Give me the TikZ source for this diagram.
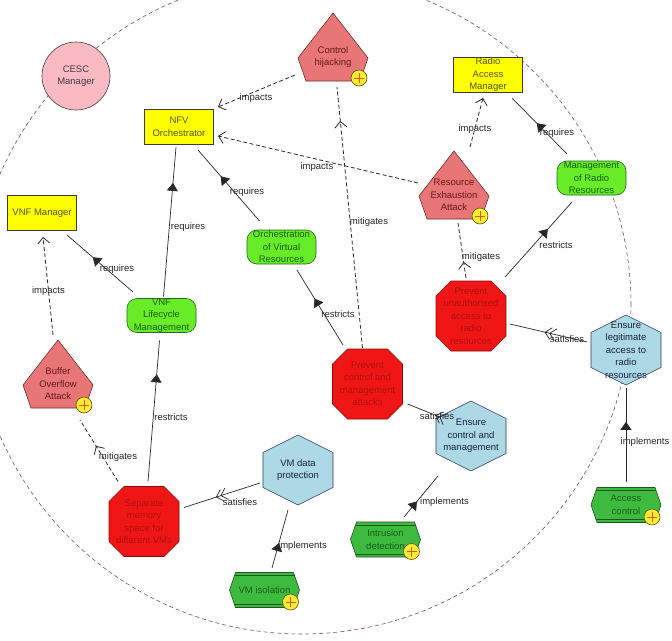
\documentclass[tikz,border=0pt]{standalone}
\usepackage{fontspec}
\setmainfont{Liberation Sans}
\usetikzlibrary{calc,arrows.meta,decorations.markings}

\definecolor{linec}{RGB}{40,40,40}
\definecolor{bordc}{RGB}{60,60,60}
\definecolor{goalfill}{RGB}{255,255,0}
\definecolor{goaltext}{RGB}{85,85,20}
\definecolor{actorfill}{RGB}{249,186,196}
\definecolor{actortxt}{RGB}{70,60,60}
\definecolor{pentafill}{RGB}{232,118,118}
\definecolor{pentabord}{RGB}{110,45,45}
\definecolor{pentatxt}{RGB}{105,25,25}
\definecolor{softfill}{RGB}{104,236,40}
\definecolor{softbord}{RGB}{40,105,30}
\definecolor{softtxt}{RGB}{25,95,25}
\definecolor{taskfill}{RGB}{62,186,62}
\definecolor{taskbord}{RGB}{30,85,30}
\definecolor{octfill}{RGB}{240,22,22}
\definecolor{octbord}{RGB}{140,10,10}
\definecolor{octtxt}{RGB}{175,15,15}
\definecolor{hexfill}{RGB}{173,216,230}
\definecolor{hexbord}{RGB}{50,60,80}
\definecolor{hextxt}{RGB}{25,35,60}
\definecolor{plusfill}{RGB}{255,235,50}
\definecolor{plusbord}{RGB}{90,80,20}
\definecolor{pluscross}{RGB}{215,95,20}
\definecolor{circc}{RGB}{135,75,85}

\tikzset{
  txt/.style={font=\fontsize{9.5}{12.5}\selectfont, align=center, inner sep=0pt},
  goalbox/.style={txt, draw=bordc, fill=goalfill, text=goaltext, minimum width=69pt, minimum height=35pt, line width=0.6pt},
  actor/.style={txt, circle, draw=bordc, fill=actorfill, text=actortxt, minimum size=68pt, line width=0.6pt},
  softgoal/.style={txt, draw=softbord, fill=softfill, text=softtxt, rounded corners=10pt, minimum width=69pt, minimum height=34pt, line width=0.6pt},
  pentashape/.style={draw=pentabord, fill=pentafill, line width=0.6pt},
  octshape/.style={draw=octbord, fill=octfill, line width=0.6pt},
  hexshape/.style={draw=hexbord, fill=hexfill, line width=0.6pt},
  taskshape/.style={draw=taskbord, fill=taskfill, line width=0.6pt},
  pentatext/.style={txt, text=pentatxt},
  octtext/.style={txt, text=octtxt},
  hextext/.style={txt, text=hextxt},
  tasktext/.style={txt, text=softtxt},
  plusdisc/.style={draw=plusbord, fill=plusfill, line width=0.6pt},
  pluscr/.style={draw=pluscross, line width=0.8pt},
  lbl/.style={font=\fontsize{9.5}{11}\selectfont, text=linec, inner sep=0pt},
  conn/.style={draw=linec, line width=0.7pt},
  dconn/.style={conn, line width=0.8pt, dash pattern=on 4pt off 2.5pt},
  endbarb/.style={-{Straight Barb[length=6pt,width=12pt]}},
  barbat/.style={decoration={markings, mark=at position #1 with {\pgfsetdash{}{0pt}\arrow{Straight Barb[length=6pt,width=12pt]}}}, postaction={decorate}},
  triat/.style={decoration={markings, mark=at position #1 with {\arrow{Triangle[length=8pt,width=11pt]}}}, postaction={decorate}},
  satat/.style 2 args={decoration={markings, mark=at position #1 with {\arrow{Straight Barb[length=6pt,width=12pt]}}, mark=at position #2 with {\arrow{Straight Barb[length=6pt,width=12pt]}}}, postaction={decorate}},
}

\newcommand{\plusat}[1]{%
  \filldraw[plusdisc] (#1) circle[radius=8pt];
  \draw[pluscr] (#1) +(-5,0) -- +(5,0) +(0,-5) -- +(0,5);}

\newcommand{\pentanode}[3]{%
  \begin{scope}[shift={(#2)}]
    \filldraw[pentashape] (0,-44) -- (35,1) -- (27,24) -- (-27,24) -- (-35,1) -- cycle;
    \node[pentatext] (#1) at (0,0) {#3};
    \plusat{26,21}
  \end{scope}}

\newcommand{\octanode}[3]{%
  \begin{scope}[shift={(#2)}]
    \filldraw[octshape] (-20,-35) -- (20,-35) -- (35,-20) -- (35,20) -- (20,35) -- (-20,35) -- (-35,20) -- (-35,-20) -- cycle;
    \node[octtext] (#1) at (0,0) {#3};
  \end{scope}}

\newcommand{\hexnode}[3]{%
  \begin{scope}[shift={(#2)}]
    \filldraw[hexshape] (0,-35) -- (35,-17.5) -- (35,17.5) -- (0,35) -- (-35,17.5) -- (-35,-17.5) -- cycle;
    \node[hextext] (#1) at (0,0) {#3};
  \end{scope}}

\newcommand{\tasknode}[3]{%
  \begin{scope}[shift={(#2)}]
    \filldraw[taskshape] (-35,0) -- (-29,-17.5) -- (29,-17.5) -- (35,0) -- (29,17.5) -- (-29,17.5) -- cycle;
    \draw[taskbord, line width=0.6pt] (-30,-14.5) -- (30,-14.5) (-30,14.5) -- (30,14.5);
    \node[tasktext] (#1) at (0,0) {#3};
    \plusat{26,12}
  \end{scope}}

\begin{document}
\begin{tikzpicture}[x=1pt,y=-1pt]
\fill[white] (0,0) rectangle (672,640);
\useasboundingbox (0,0) rectangle (672,640);
\begin{scope}
  \clip (0,0) rectangle (672,640);
  \draw[circc, line width=0.6pt, dash pattern=on 4pt off 3pt] (302,305) circle[radius=329pt];
\end{scope}

% nodes
\node[actor] (cesc) at (76,76) {CESC\\Manager};
\node[goalbox] (nfv) at (179,127) {NFV\\Orchestrator};
\node[goalbox] (vnfm) at (42,213) {VNF Manager};
\node[goalbox] (ram) at (488,75) {Radio\\Access\\Manager};
\pentanode{hij}{333,57}{Control\\hijacking}
\pentanode{rea}{454,195}{Resource\\Exhaustion\\Attack}
\pentanode{boa}{58,384}{Buffer\\Overflow\\Attack}
\node[softgoal] (orch) at (281.5,247) {Orchestration\\of Virtual\\Resources};
\node[softgoal] (vlm) at (161.5,315.5) {VNF\\Lifecycle\\Management};
\node[softgoal] (mrr) at (591.5,178) {Management\\of Radio\\Resources};
\octanode{pua}{471,316}{Prevent\\unauthorised\\access to\\radio\\resources}
\octanode{pcm}{367.5,384}{Prevent\\control and\\management\\attacks}
\octanode{sep}{144,521.5}{Separate\\memory\\space for\\different VMs}
\hexnode{ela}{626,350}{Ensure\\legitimate\\access to\\radio\\resources}
\hexnode{ecm}{471,436}{Ensure\\control and\\management}
\hexnode{vdp}{298,470}{VM data\\protection}
\tasknode{ids}{385.5,539.5}{Intrusion\\detection}
\tasknode{acc}{626,505}{Access\\control}
\tasknode{vmi}{264.5,590}{VM isolation}

% impacts
\draw[dconn, endbarb] ($(hij)+(-38,18)$) -- ($(nfv)+(39,-20)$);
\draw[dconn, endbarb] ($(rea)+(-36,-12)$) -- ($(nfv)+(39,9)$);
\draw[dconn, endbarb] ($(rea)+(16,-48)$) -- ($(ram)+(-5,23)$);
\draw[dconn, endbarb] ($(boa)+(-5,-49)$) -- ($(vnfm)+(1,24)$);
% mitigates
\draw[dconn, barbat=0.87] ($(pcm)+(-5,-36)$) -- ($(hij)+(4,30)$);
\draw[dconn, barbat=0.58] ($(sep)+(-26,-40)$) -- ($(boa)+(22,36)$);
\draw[dconn, barbat=0.29] ($(pua)+(-5,-38)$) -- ($(rea)+(4,28)$);
% satisfies
\draw[conn, satat={0.58}{0.52}] ($(vdp)+(-38,13)$) -- ($(sep)+(40,-14)$);
\draw[conn, satat={0.55}{0.49}] ($(ela)+(-39,-8)$) -- ($(pua)+(39,8)$);
\draw[conn, satat={0.14}{0.02}] ($(ecm)+(-31,-19)$) -- ($(pcm)+(40,20)$);
% requires
\draw[conn, triat=0.76] ($(vlm)+(2,-19)$) -- ($(nfv)+(-3,20)$);
\draw[conn, triat=0.63] ($(orch)+(-22,-26)$) -- ($(nfv)+(19,23)$);
\draw[conn, triat=0.61] ($(vlm)+(-28.5,-23.5)$) -- ($(vnfm)+(25,22)$);
\draw[conn, triat=0.55] ($(mrr)+(-24.5,-24)$) -- ($(ram)+(24,23)$);
% restricts
\draw[conn, triat=0.76] ($(sep)+(4,-40)$) -- ($(vlm)+(-2,25)$);
\draw[conn, triat=0.62] ($(pcm)+(-24.5,-39)$) -- ($(orch)+(15.5,23)$);
\draw[conn, triat=0.64] ($(pua)+(34,-39)$) -- ($(mrr)+(-19.5,24)$);
% implements
\draw[conn, triat=0.64] ($(acc)+(0,-23)$) -- ($(ela)+(0,38)$);
\draw[conn, triat=0.38] ($(ids)+(18.5,-22.5)$) -- ($(ecm)+(-33,40)$);
\draw[conn, triat=0.43] ($(vmi)+(7.5,-22)$) -- ($(vdp)+(-10,40)$);

% labels
\node[lbl] (l1) at (256,98) {impacts};
\node[lbl] (l2) at (317,167) {impacts};
\node[lbl] (l3) at (475,129) {impacts};
\node[lbl] (l4) at (48.5,291) {impacts};
\node[lbl] (l5) at (369,222) {mitigates};
\node[lbl] (l6) at (118,457) {mitigates};
\node[lbl] (l7) at (481,257) {mitigates};
\node[lbl] (l8) at (240,502) {satisfies};
\node[lbl] (l9) at (567,339) {satisfies};
\node[lbl] (l10) at (437,416) {satisfies};
\node[lbl] (l11) at (188,227) {requires};
\node[lbl] (l12) at (247,192) {requires};
\node[lbl] (l13) at (117,269) {requires};
\node[lbl] (l14) at (557,133) {requires};
\node[lbl] (l15) at (171,417) {restricts};
\node[lbl] (l16) at (338,314) {restricts};
\node[lbl] (l17) at (556,245) {restricts};
\node[lbl] (l18) at (645,442) {implements};
\node[lbl] (l19) at (444.5,502) {implements};
\node[lbl] (l20) at (302.5,546) {implements};
\end{tikzpicture}
\end{document}
